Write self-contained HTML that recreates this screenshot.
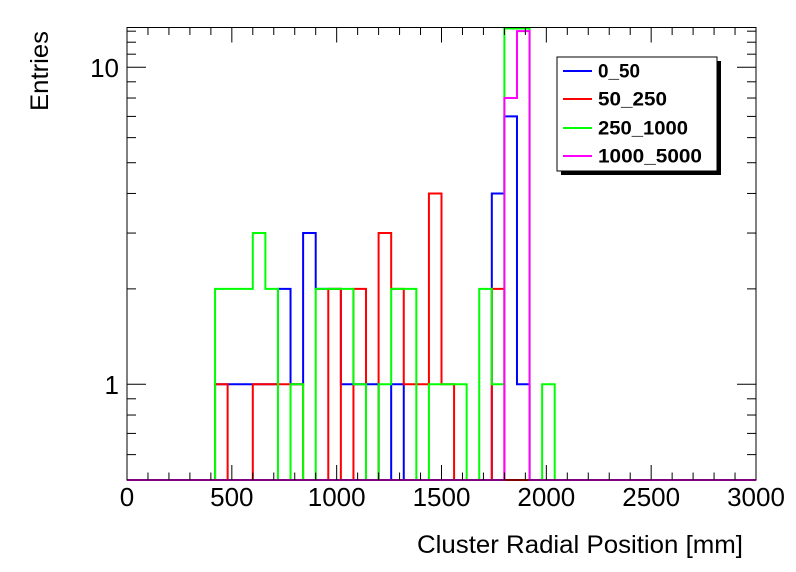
<!DOCTYPE html>
<html><head><meta charset="utf-8"><style>
body{margin:0;background:#fff;}
svg{display:block;font-family:"Liberation Sans",Arial,sans-serif;}
</style></head><body>
<svg id="chart" width="796" height="572" viewBox="0 0 796 572">
<rect width="796" height="572" fill="#fff"/>
<g id="series"></g>
<g id="axes"></g>
<g id="legend"></g>
</svg>
<script>
const binEdges = [0, 3000];
const nBins = 50;
const blueVals  = {7:1,8:1,9:1,10:1,11:1,12:2,13:1,14:3,15:2,16:2,17:1,18:1,19:1,21:1,29:4,30:7,31:1};
const redVals   = {7:1,10:1,11:1,12:1,13:1,16:2,18:2,20:3,21:2,22:1,23:1,24:4,25:1,29:2};
const greenVals = {7:2,8:2,9:2,10:3,11:2,13:1,15:2,16:2,17:2,18:1,20:1,21:2,22:2,24:1,25:1,26:1,28:2,29:1,30:15,31:15,33:1};
const magentaVals = {30:8,31:13};
const seriesNames = ["0_50","50_250","250_1000","1000_5000"];
const seriesColors = ["#0000ff","#ff0000","#00ff00","#ff00ff"];
const xTicks = [0,500,1000,1500,2000,2500,3000];
const yMajor = [1,10];
const yMinor = [0.5,0.6,0.7,0.8,0.9,2,3,4,5,6,7,8,9,11,12,13];

const NS="http://www.w3.org/2000/svg";
const X0=127,X1=756,YT=27.5,YB=480;
const yMin=0.5, y1px=384.3, dec=317;
function xs(v){return X0+(v-binEdges[0])/(binEdges[1]-binEdges[0])*(X1-X0);}
function ys(v){if(v<=yMin)return YB;return Math.max(YT+1,y1px-Math.log10(v)*dec);}
function mk(tag,attrs,parent){const e=document.createElementNS(NS,tag);for(const k in attrs)e.setAttribute(k,attrs[k]);parent.appendChild(e);return e;}

const sg=document.getElementById('series');
const all=[blueVals,redVals,greenVals,magentaVals];
const bw=(binEdges[1]-binEdges[0])/nBins;
all.forEach((vals,si)=>{
  let pts=[];
  for(let i=0;i<nBins;i++){
    const v=vals[i]||0;
    const y=ys(v);
    pts.push(xs(binEdges[0]+i*bw)+","+y);
    pts.push(xs(binEdges[0]+(i+1)*bw)+","+y);
  }
  const p=mk('polyline',{points:pts.join(' '),fill:'none',stroke:seriesColors[si],'stroke-width':2},sg);
  
  
});

const ag=document.getElementById('axes');
const fr=mk('rect',{x:X0,y:YT,width:X1-X0,height:YB-YT,fill:'none',stroke:'#000','stroke-width':1},ag);


for(let v=0;v<=3000;v+=100){
  const x=xs(v); const major=(v%500===0); const L=major?15:7.5;
  mk('line',{x1:x,y1:YB,x2:x,y2:YB-L,stroke:'#000','stroke-width':1},ag);
  mk('line',{x1:x,y1:YT,x2:x,y2:YT+L,stroke:'#000','stroke-width':1},ag);
}
xTicks.forEach(v=>{
  const t=mk('text',{x:xs(v),y:506,'font-size':26,'text-anchor':'middle',fill:'#000'},ag);
  t.textContent=v;
  
  
});
yMajor.forEach(v=>{
  const y=ys(v);
  mk('line',{x1:X0,y1:y,x2:X0+19,y2:y,stroke:'#000'},ag);
  mk('line',{x1:X1,y1:y,x2:X1-19,y2:y,stroke:'#000'},ag);
  const t=mk('text',{x:119,y:y+9.5,'font-size':26,'text-anchor':'end',fill:'#000'},ag);
  t.textContent=v;
  
  
});
yMinor.forEach(v=>{
  const y=ys(v); if(y<=YT+1||y>=YB)return;
  mk('line',{x1:X0,y1:y,x2:X0+9,y2:y,stroke:'#000'},ag);
  mk('line',{x1:X1,y1:y,x2:X1-9,y2:y,stroke:'#000'},ag);
});
const xt=mk('text',{x:417,y:553,'font-size':25,textLength:326,lengthAdjust:'spacingAndGlyphs',fill:'#000'},ag);
xt.textContent='Cluster Radial Position [mm]';


const yt=mk('text',{x:0,y:0,'font-size':25,textLength:80,lengthAdjust:'spacingAndGlyphs',fill:'#000',transform:'translate(48,111) rotate(-90)'},ag);
yt.textContent='Entries';



const lg=document.getElementById('legend');
mk('rect',{x:561,y:61,width:160,height:114,fill:'#000'},lg);
mk('rect',{x:557,y:57,width:160,height:114,fill:'#fff',stroke:'#000','stroke-width':1},lg);
const ly=[71,99,128,156];
const lw=[42,69,90,104];
seriesNames.forEach((n,i)=>{
  const g=mk('g',{},lg);
  
  
  mk('line',{x1:563,y1:ly[i],x2:592,y2:ly[i],stroke:seriesColors[i],'stroke-width':2},g);
  const t=mk('text',{x:598,y:ly[i]+6.5,'font-size':19,'font-weight':'bold',textLength:lw[i],lengthAdjust:'spacingAndGlyphs',fill:'#000'},g);
  t.textContent=n;
});
</script>
</body></html>
